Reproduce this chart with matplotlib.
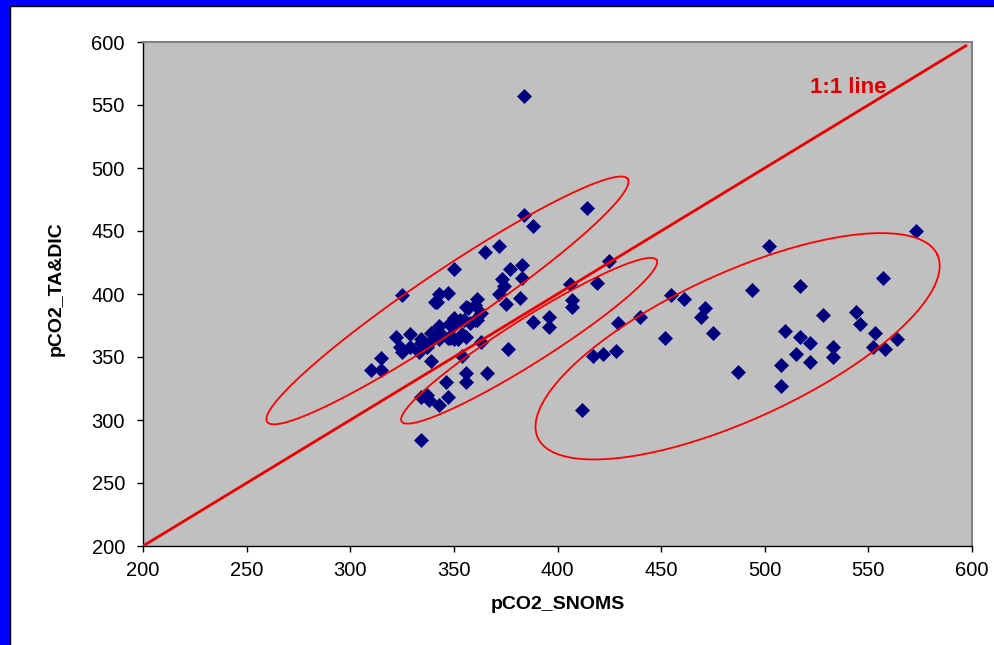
import numpy as np
import matplotlib
matplotlib.use('Agg')
import matplotlib.pyplot as plt
from matplotlib.patches import Rectangle

# pCO2 from SNOMS (x) against pCO2 computed from TA & DIC (y)
snoms = [573, 502, 557, 494, 517, 455, 461, 471, 469, 475, 452, 440, 429, 428, 422, 417, 412,
         528, 544, 546, 553, 564, 552, 558, 510, 517, 522, 533, 533, 515, 522, 508, 487, 508,
         425, 419, 406, 407, 407, 396, 396, 388, 388, 414, 384, 384, 365, 372, 350, 377, 383,
         373, 383, 374, 372, 382, 375, 361, 325, 343, 347, 341, 357, 361, 376, 363, 354, 356,
         356, 366, 346, 337, 347, 334, 338, 343, 334,
         356, 360, 363, 355, 350, 349, 343, 339, 334, 329, 322, 324, 329, 333, 337, 350, 354,
         347, 315, 310, 315, 339, 325, 334, 338, 343, 348, 352, 356, 343, 348, 353, 358, 360, 342]
ta_dic = [450, 438, 413, 403, 406, 399, 396, 389, 382, 369, 365, 382, 377, 355, 352, 351, 308,
          383, 386, 376, 369, 364, 358, 356, 371, 366, 361, 358, 350, 352, 346, 344, 338, 327,
          426, 409, 408, 395, 390, 382, 374, 378, 454, 468, 557, 463, 433, 438, 420, 420, 423,
          412, 413, 406, 400, 397, 392, 396, 399, 400, 401, 394, 389, 379, 356, 362, 351, 337,
          330, 337, 330, 320, 318, 318, 316, 312, 284,
          390, 391, 385, 379, 381, 374, 370, 369, 364, 368, 366, 358, 358, 354, 358, 364, 368,
          365, 349, 340, 340, 347, 354, 361, 361, 364, 365, 364, 366, 375, 377, 379, 377, 379, 394]

one_to_one = [200, 597]

# ellipses: centre, major semi-axis vector, minor semi-axis vector (data units)
ell_centres = [(346.9, 394.9), (386.3, 362.9), (486.9, 358.5)]
ell_major = [(87.0, 96.4), (61.5, 64.1), (96.4, 72.6)]
ell_minor = [(-7.9, 19.4), (-5.7, 14.8), (-14.7, 52.9)]

plt.rcParams['font.family'] = ['Liberation Sans', 'DejaVu Sans']

fig = plt.figure(figsize=(9.95, 6.45), dpi=100)
fig.patch.set_facecolor('#0000FF')
frame = Rectangle((10.5 / 995, -0.05), 1.2, 1.05 - 5.5 / 645,
                  transform=fig.transFigure, facecolor='white',
                  edgecolor='black', linewidth=1, zorder=-10)
fig.patches.append(frame)

ax = fig.add_axes([143 / 995, 1 - 546 / 645, 829 / 995, 504 / 645])
ax.set_facecolor('#C0C0C0')

ax.plot(snoms, ta_dic, linestyle='none', marker='D', markersize=7.2,
        color='#000080', markeredgewidth=0.5, zorder=3)

ax.plot(one_to_one, one_to_one, color='#EE0000', linewidth=2.0, zorder=4)

t = np.linspace(0, 2 * np.pi, 400)
for (cx, cy), (ax_, ay_), (bx, by) in zip(ell_centres, ell_major, ell_minor):
    ax.plot(cx + ax_ * np.cos(t) + bx * np.sin(t),
            cy + ay_ * np.cos(t) + by * np.sin(t),
            color='#FF0000', linewidth=1.3, zorder=4)

ax.text(540.5, 564, '1:1 line', color='#E00000', fontsize=16,
        fontweight='bold', ha='center', va='center', zorder=5)

ax.set_xlim(200, 600)
ax.set_ylim(200, 600)
ax.set_xticks(np.arange(200, 601, 50))
ax.set_yticks(np.arange(200, 601, 50))
ax.tick_params(axis='both', labelsize=14.5, length=4, width=1, direction='out',
               colors='black')
ax.tick_params(axis='x', pad=7)
ax.tick_params(axis='y', pad=9)

for side in ['top', 'right']:
    ax.spines[side].set_color('#808080')
    ax.spines[side].set_linewidth(1.5)
for side in ['left', 'bottom']:
    ax.spines[side].set_color('black')
    ax.spines[side].set_linewidth(1.0)

ax.set_xlabel('pCO2_SNOMS', fontsize=14, fontweight='bold')
ax.set_ylabel('pCO2_TA&DIC', fontsize=14, fontweight='bold')
ax.xaxis.set_label_coords(0.5, -0.10)
ax.yaxis.set_label_coords(-0.094, 0.51)

fig.savefig('out.png', dpi=100, facecolor=fig.get_facecolor())
